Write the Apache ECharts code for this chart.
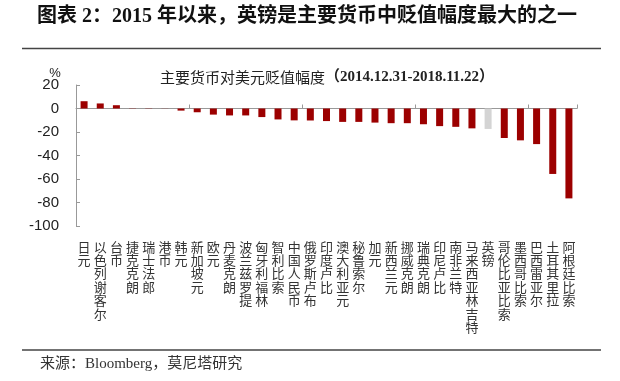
<!DOCTYPE html>
<html>
<head>
<meta charset="utf-8">
<script src="https://cdn.jsdelivr.net/npm/echarts@6/dist/echarts.min.js"></script>
<style>html,body{margin:0;padding:0;background:#fff}#c{width:620px;height:381px}</style>
</head>
<body>
<div id="c"></div>
<script>
var categories = ['日元','以色列谢客尔','台币','捷克克朗','瑞士法郎','港币','韩元','新加坡元','欧元','丹麦克朗','波兰兹罗提','匈牙利福林','智利比索','中国人民币','俄罗斯卢布','印度卢比','澳大利亚元','秘鲁索尔','加元','新西兰元','挪威克朗','瑞典克朗','印尼卢比','南非兰特','马来西亚林吉特','英镑','哥伦比亚比索','墨西哥比索','巴西雷亚尔','土耳其里拉','阿根廷比索'];
var values = [6.2, 4.3, 2.8, 0.2, -0.2, -0.1, -1.8, -3.2, -5.2, -5.9, -5.9, -7.3, -9.3, -10.1, -10.2, -10.7, -11.4, -11.4, -12.0, -12.5, -12.5, -13.4, -15.0, -15.6, -16.9, -17.4, -25.1, -27.1, -30.3, -55.7, -76.5];
var highlight = '英镑';
var yTicks = {min: -100, max: 20, interval: 20};
var headerText = '图表 2：2015 年以来，英镑是主要货币中贬值幅度最大的之一';
var chartTitleCn = '主要货币对美元贬值幅度';
var chartTitleDate = '（2014.12.31-2018.11.22）';
var sourceText = '来源：Bloomberg，莫尼塔研究';

var chart = echarts.init(document.getElementById('c'), null, {renderer: 'canvas'});
var serif = '"Liberation Serif","DejaVu Serif","Noto Sans CJK SC"';
var sans = '"Liberation Sans",Arial,"Noto Sans CJK SC"';
var option = {
  animation: false,
  backgroundColor: '#fff',
  grid: {left: 76, right: 43, top: 85, height: 141, containLabel: false},
  xAxis: [{
    type: 'category', data: categories, position: 'bottom',
    axisLine: {show: false, onZero: false}, axisTick: {show: false},
    axisLabel: {interval: 0, margin: 14, fontSize: 13, lineHeight: 13.4, color: '#333',
      fontFamily: '"Noto Sans CJK SC"', verticalAlign: 'top',
      formatter: function (v) { return v.split('').join('\n'); }}
  }, {
    type: 'category', data: categories, position: 'bottom',
    axisLine: {show: true, onZero: true, lineStyle: {color: '#999', width: 1}},
    axisTick: {show: true, inside: true, length: 4, lineStyle: {color: '#999'}},
    axisLabel: {show: false}
  }],
  yAxis: {
    type: 'value', min: yTicks.min, max: yTicks.max, interval: yTicks.interval,
    axisLine: {show: true, lineStyle: {color: '#999'}},
    axisTick: {show: true, inside: true, length: 4, lineStyle: {color: '#999'}},
    splitLine: {show: false},
    axisLabel: {fontSize: 15, color: '#222', margin: 17, fontFamily: sans}
  },
  series: [{
    type: 'bar', xAxisIndex: 0, barWidth: 7,
    data: values.map(function (v, i) {
      return {value: v, itemStyle: {color: categories[i] === highlight ? '#d4d4d4' : '#9c0000'}};
    })
  }],
  graphic: [
    {type: 'text', left: 37, top: 7, style: {text: headerText, font: 'bold 20px ' + serif, fill: '#111'}},
    {type: 'line', shape: {x1: 22, y1: 48.5, x2: 601, y2: 48.5}, style: {stroke: '#444', lineWidth: 1.5}},
    {type: 'text', x: 327, y: 77, style: {
      text: '{a|' + chartTitleCn + '}{b|' + chartTitleDate + '}', align: 'center', verticalAlign: 'middle',
      rich: {a: {fontSize: 15, fontFamily: '"Noto Sans CJK SC"', fill: '#222'},
             b: {fontSize: 15, fontWeight: 'bold', fontFamily: serif, fill: '#222'}}}},
    {type: 'text', x: 55, y: 73, style: {text: '%', align: 'center', verticalAlign: 'middle', font: '13px ' + sans, fill: '#222'}},
    {type: 'line', shape: {x1: 22, y1: 350, x2: 601, y2: 350}, style: {stroke: '#444', lineWidth: 1.5}},
    {type: 'text', left: 40, top: 357, style: {text: sourceText, font: '15px ' + serif, fill: '#333'}}
  ]
};
chart.setOption(option);
</script>
</body>
</html>
